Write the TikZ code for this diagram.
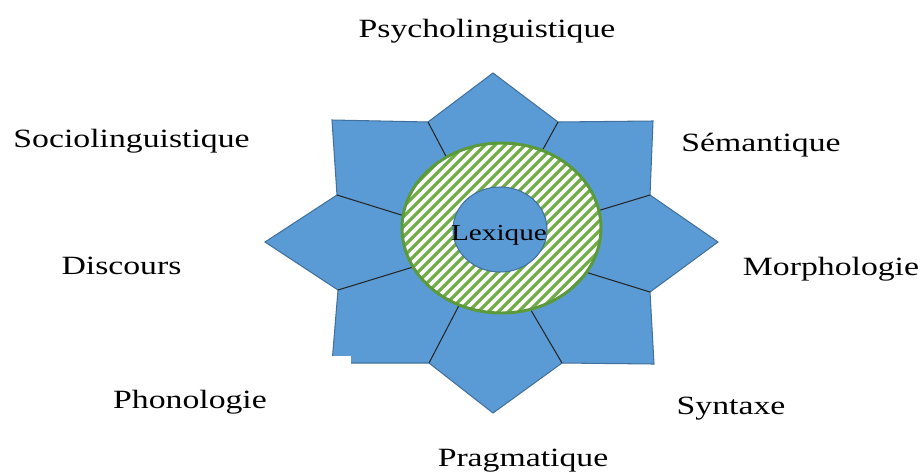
\documentclass[tikz,border=0pt]{standalone}
\usepackage{fontspec}
\setmainfont{Liberation Serif}

\definecolor{petal}{HTML}{5B9BD5}
\definecolor{petaledge}{HTML}{41719C}
\definecolor{hatchgreen}{HTML}{70AD47}
\definecolor{ringedge}{HTML}{5B9A3A}

\newcommand{\wide}[1]{\scalebox{1.28}[1]{#1}}

\tikzset{
  field/.style={font=\fontsize{15}{17}\selectfont, anchor=base, inner sep=0pt},
  lexbox/.style={font=\fontsize{13}{15}\selectfont, anchor=base, inner sep=0pt},
  spoke/.style={black!85, line width=0.6pt},
}

\begin{document}
\begin{tikzpicture}[x=0.02cm, y=-0.02cm]
\useasboundingbox (0,0) rectangle (922,471);

% Star
\draw[petaledge, fill=petal, line width=0.6pt] (493,73) -- (558,122) -- (653,121) -- (650,195)
  -- (718,242) -- (650,292) -- (654,364) -- (562,363) -- (493,413) -- (429,363)
  -- (332,363) -- (338,290) -- (265,242) -- (337,195) -- (332,120) -- (428,122) -- cycle;
\fill[white] (331,356) rectangle (351,367);

% Spokes
\foreach \x/\y in {428/122, 558/122, 650/195, 650/292, 562/363, 429/363, 338/290, 337/195}
  \draw[spoke] (\x,\y) -- (491.5,243);

% Ring
\fill[white] (501.5,228) ellipse [x radius=99.5, y radius=85];
\begin{scope}
\clip (501.5,228) ellipse [x radius=99.5, y radius=85];
\foreach \c in {200,210,...,610}
  \draw[hatchgreen, line width=1.8pt] (\c,330) -- ++(200,-200);
\end{scope}
\draw[petaledge, fill=petal, line width=0.6pt] (500,229.5) ellipse [x radius=47, y radius=42.5];
\draw[ringedge, line width=1.7pt] (501.5,228) ellipse [x radius=99.5, y radius=85];

\node[lexbox] (lexique) at (499,240) {\wide{Lexique}};

% Labels
\node[field] (psycho) at (487,37) {\wide{Psycholinguistique}};
\node[field] (socio) at (131.5,147) {\wide{Sociolinguistique}};
\node[field] (seman) at (761,151) {\wide{Sémantique}};
\node[field] (disc) at (121.5,274) {\wide{Discours}};
\node[field] (morph) at (831,275) {\wide{Morphologie}};
\node[field] (phono) at (190,408) {\wide{Phonologie}};
\node[field] (synt) at (731,414) {\wide{Syntaxe}};
\node[field] (pragm) at (523,466) {\wide{Pragmatique}};

\end{tikzpicture}
\end{document}
